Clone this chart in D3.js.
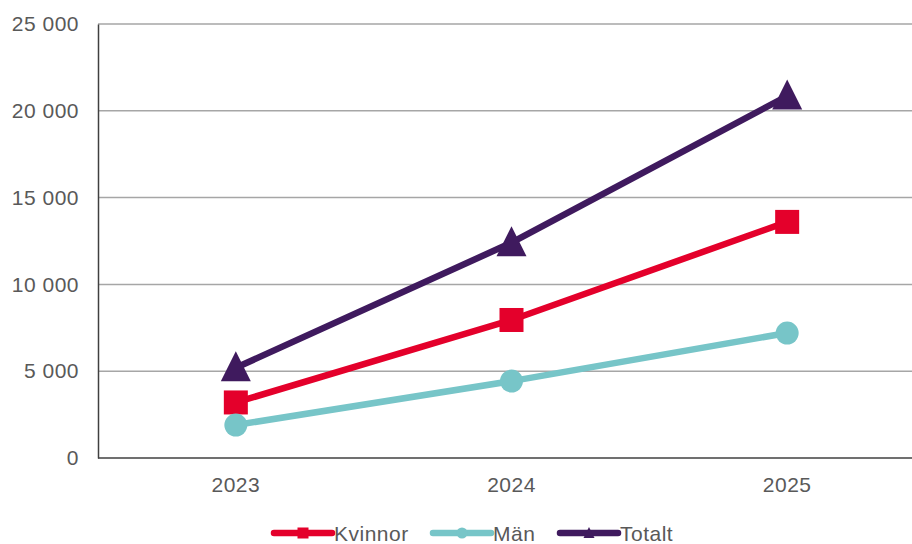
<!DOCTYPE html>
<html><head><meta charset="utf-8">
<script src="https://cdn.jsdelivr.net/npm/d3@7"></script>
<style>body{margin:0;background:#fff}svg{display:block}text{font-family:"Liberation Sans",Arial,sans-serif;fill:#595959}</style>
</head><body><svg id="c" width="912" height="544"></svg>
<script>
const years = ["2023","2024","2025"];
const kvinnor = [3200, 7950, 13600];
const man = [1900, 4430, 7200];
const totalt = [5200, 12400, 20850];
const yTicks = [0, 5000, 10000, 15000, 20000, 25000];
const seriesNames = ["Kvinnor","Män","Totalt"];
const colors = ["#E4002B","#77C5C8","#3F1A5E"];
const shapes = ["square","circle","triangle"];

(function(){
const svg = d3.select("#c");
const pL = 98, pR = 925, pT = 24, pB = 458;
const FS = "21px", LS = "0.5px";
const x = d3.scaleBand().domain(years).range([pL, pR]);
const y = d3.scaleLinear().domain([0, 25000]).range([pB, pT]);
const fmt = v => d3.format(",")(v).replace(/,/g, " ");

svg.append("g").selectAll("line").data(yTicks.filter(d=>d>0)).join("line")
  .attr("x1", pL).attr("x2", 912).attr("y1", d=>y(d)).attr("y2", d=>y(d))
  .attr("stroke", "#a6a6a6").attr("stroke-width", 1.5);

const yAxis = svg.append("g").attr("transform", `translate(${pL},0)`)
  .call(d3.axisLeft(y).tickValues(yTicks).tickFormat(fmt).tickSize(0).tickPadding(19));
yAxis.select(".domain").attr("stroke", "#404040").attr("stroke-width", 1.5);
yAxis.selectAll("text").style("font-size", FS).style("letter-spacing", LS).attr("fill", "#595959").style("font-family", "Liberation Sans, Arial, sans-serif");

const xAxis = svg.append("g").attr("transform", `translate(0,${pB})`)
  .call(d3.axisBottom(x).tickSize(0).tickPadding(19));
xAxis.select(".domain").attr("stroke", "#404040").attr("stroke-width", 1.5).attr("d", `M${pL},0H912`);
xAxis.selectAll("text").style("font-size", FS).style("letter-spacing", LS).attr("fill", "#595959").style("font-family", "Liberation Sans, Arial, sans-serif");

const data = [kvinnor, man, totalt];
const cx = d => x(d) + x.bandwidth()/2;
const line = d3.line().x((d,i)=>cx(years[i])).y(d=>y(d));

function marker(g, shape, color, px, py, s) {
  if (shape === "square") g.append("rect").attr("x", px-s/2).attr("y", py-s/2).attr("width", s).attr("height", s).attr("fill", color);
  else if (shape === "circle") g.append("circle").attr("cx", px).attr("cy", py).attr("r", s/2).attr("fill", color);
  else g.append("path").attr("d", `M${px},${py-s*0.55}L${px+s*0.5},${py+s*0.45}L${px-s*0.5},${py+s*0.45}Z`).attr("fill", color);
}
const sizes = [24, 23, 30];

data.forEach((vals, k) => {
  const g = svg.append("g");
  g.append("path").datum(vals).attr("d", line).attr("fill", "none")
    .attr("stroke", colors[k]).attr("stroke-width", 6.5).attr("stroke-linejoin", "round");
  vals.forEach((v, i) => marker(g, shapes[k], colors[k], cx(years[i]), y(v), sizes[k]));
});

const legX = [274, 433, 560];
const legend = svg.append("g");
seriesNames.forEach((n, k) => {
  const g = legend.append("g");
  const x0 = legX[k], ly = 533;
  g.append("line").attr("x1", x0).attr("x2", x0+58).attr("y1", ly).attr("y2", ly)
    .attr("stroke", colors[k]).attr("stroke-width", 6.5).attr("stroke-linecap", "round");
  marker(g, shapes[k], colors[k], x0+29, ly, 11);
  g.append("text").attr("x", x0+60).attr("y", ly+8).style("font-size", FS).style("letter-spacing", LS).text(n);
});
})();
</script></body></html>
